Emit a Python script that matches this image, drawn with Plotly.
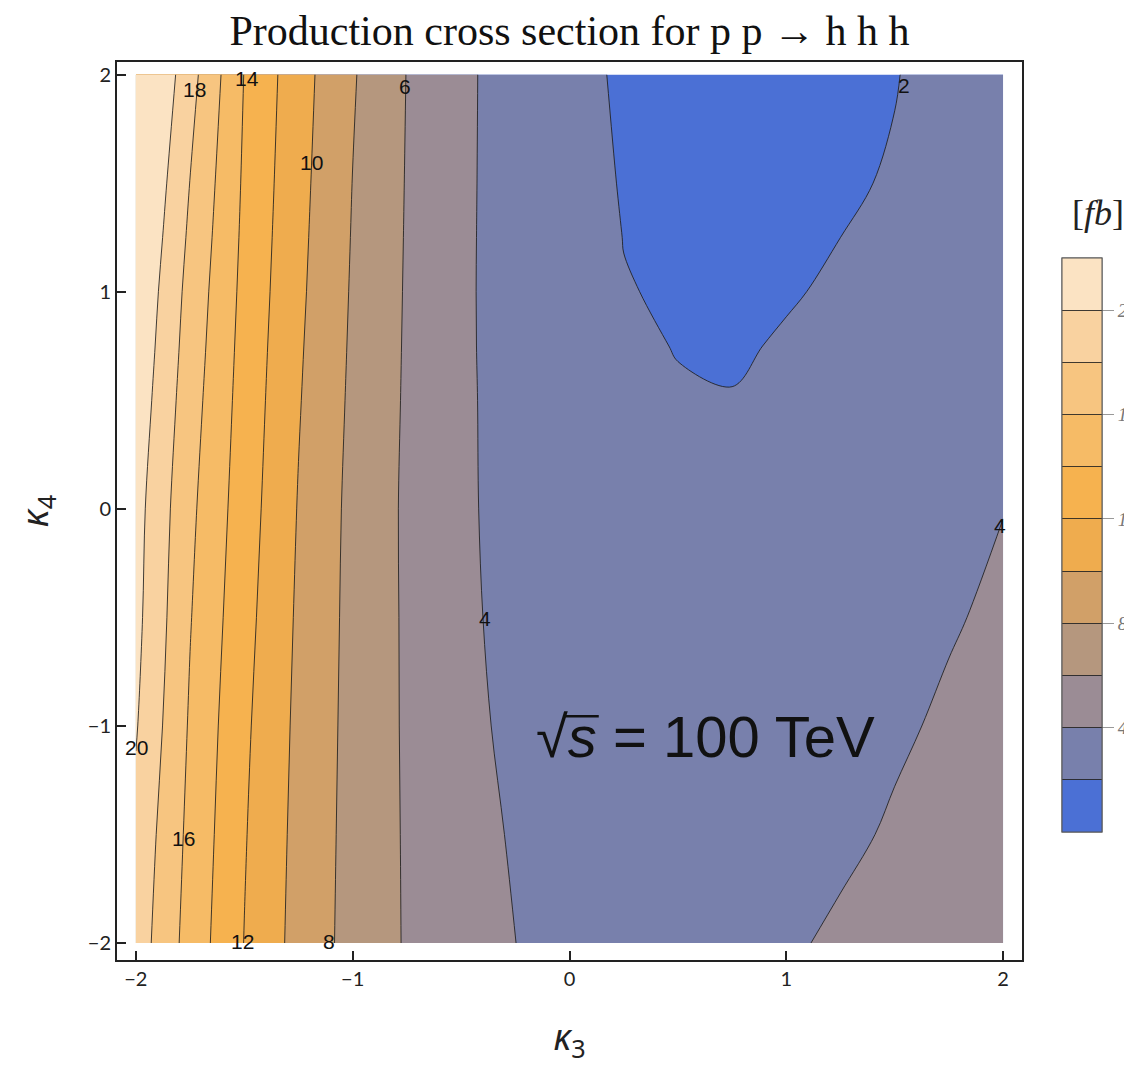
import plotly.graph_objects as go

# kappa_3 grid (x) and kappa_4 grid (y)
kappa3 = [-2.0, -1.75, -1.5, -1.25, -1.0, -0.75, -0.5, -0.25, 0.0,
          0.25, 0.5, 0.75, 1.0, 1.25, 1.5, 1.75, 2.0]
kappa4 = [-2.0, -1.5, -1.0, -0.5, 0.0, 0.5, 0.75, 1.0, 1.25, 1.5, 2.0]

# cross section [fb], one row per kappa_4 value
sigma_fb = [
    [19.10, 15.22, 11.96, 9.33, 7.33, 5.84, 4.75, 4.01, 3.30, 2.95, 2.80, 3.15, 3.75, 4.30, 4.65, 4.95, 5.20],
    [19.50, 15.50, 12.14, 9.44, 7.37, 5.81, 4.60, 3.85, 3.20, 2.80, 2.62, 2.75, 3.15, 3.65, 4.20, 4.60, 4.95],
    [20.15, 15.78, 12.36, 9.57, 7.41, 5.77, 4.375, 3.70, 3.10, 2.70, 2.50, 2.55, 2.85, 3.25, 3.75, 4.25, 4.65],
    [20.55, 16.10, 12.66, 9.72, 7.45, 5.75, 4.27, 3.60, 3.00, 2.55, 2.35, 2.35, 2.60, 2.95, 3.40, 3.85, 4.30],
    [20.75, 16.43, 12.95, 9.90, 7.50, 5.72, 4.24, 3.50, 2.90, 2.45, 2.20, 2.15, 2.35, 2.70, 3.10, 3.55, 3.97],
    [21.30, 16.86, 13.20, 10.13, 7.65, 5.78, 4.24, 3.45, 2.80, 2.35, 2.10, 2.06, 2.25, 2.55, 2.95, 3.35, 3.75],
    [21.60, 17.10, 13.33, 10.25, 7.73, 5.81, 4.23, 3.42, 2.77, 2.20, 1.96, 1.82, 2.14, 2.40, 2.82, 3.22, 3.62],
    [21.90, 17.33, 13.47, 10.38, 7.81, 5.84, 4.23, 3.40, 2.75, 2.05, 1.88, 1.78, 1.88, 2.20, 2.70, 3.10, 3.50],
    [22.30, 17.64, 13.60, 10.49, 7.89, 5.87, 4.25, 3.37, 2.70, 1.98, 1.79, 1.73, 1.80, 2.00, 2.40, 2.85, 3.27],
    [22.70, 17.96, 13.72, 10.60, 7.97, 5.90, 4.27, 3.35, 2.65, 1.90, 1.70, 1.65, 1.72, 1.85, 2.10, 2.60, 3.05],
    [23.50, 18.73, 13.95, 10.80, 8.17, 5.96, 4.31, 3.30, 2.55, 1.75, 1.55, 1.45, 1.50, 1.70, 1.95, 2.45, 2.90],
]

# contour labels (text, kappa3, kappa4)
label_text = ["20", "18", "16", "14", "12", "10", "8", "6", "4", "2", "4"]
label_k3 = [-1.998, -1.73, -1.78, -1.486, -1.509, -1.19, -1.107, -0.757, -0.392, 1.541, 1.984]
label_k4 = [-1.10, 1.93, -1.52, 1.98, -1.995, 1.595, -1.995, 1.945, -0.504, 1.95, -0.076]

levels = [2, 4, 6, 8, 10, 12, 14, 16, 18, 20]
colbar_ticks = [4, 8, 12, 16, 20]

band_colors = ["#4b70d5", "#7880ac", "#9b8c95", "#b5977e", "#d1a068",
               "#efac4e", "#f6b24f", "#f6bb66", "#f7c580", "#f9d2a0", "#fbe3c3"]
fill_scale = [[i / 10, c] for i, c in enumerate(band_colors)]
step_scale = []
for i, c in enumerate(band_colors):
    step_scale.append([i / 11, c])
    step_scale.append([(i + 1) / 11, c])

BODY = 8  # page body margin offset
L, T = 117 - BODY, 62 - BODY
R = 1132 - (1022 - BODY)
B = 1072 - (960 - BODY)
PW, PH = 1132 - L - R, 1072 - T - B


def px(xpix):
    return (xpix - BODY - L) / PW


def py(ypix):
    return 1 - (ypix - BODY - T) / PH


fig = go.Figure()
fig.add_trace(go.Contour(
    x=kappa3, y=kappa4, z=sigma_fb,
    autocontour=False,
    contours=dict(start=levels[0], end=levels[-1], size=2, coloring="fill", showlines=True),
    colorscale=fill_scale,
    line=dict(color="rgba(30,30,30,0.85)", width=1, smoothing=1.0),
    hoverinfo="skip", showscale=False,
))

cb_common = dict(
    x=px(1062), xanchor="left", xpad=0,
    y=py(545), yanchor="middle", ypad=0,
    thickness=40, thicknessmode="pixels",
    len=574, lenmode="pixels",
    outlinewidth=1, outlinecolor="#555",
)
# colour key with labels
fig.add_trace(go.Scatter(
    x=[None], y=[None], mode="markers", hoverinfo="skip", showlegend=False,
    marker=dict(color=[0], cmin=0, cmax=22, colorscale=step_scale, showscale=True,
                colorbar=dict(**cb_common,
                              tickvals=colbar_ticks, ticktext=[str(t) for t in colbar_ticks],
                              ticks="outside", ticklen=12, tickcolor="#999", tickwidth=1,
                              tickfont=dict(family="Liberation Serif", size=19, color="#777",
                                            style="italic"))),
))
# level lines across the key
fig.add_trace(go.Scatter(
    x=[None], y=[None], mode="markers", hoverinfo="skip", showlegend=False,
    marker=dict(color=[0], cmin=0, cmax=22, colorscale=step_scale, showscale=True,
                colorbar=dict(**cb_common, tickvals=levels, ticks="inside", ticklen=40,
                              tickcolor="rgba(30,30,30,0.85)", tickwidth=1,
                              showticklabels=False)),
))

for t, a, b in zip(label_text, label_k3, label_k4):
    fig.add_annotation(x=a, y=b, text=t, showarrow=False,
                       font=dict(family="Liberation Sans", size=21, color="#111"))

fig.add_annotation(x=0.627, y=-1.05, text="√<i>s</i> = 100 TeV", showarrow=False,
                   font=dict(family="Liberation Sans", size=58, color="#111"))
# vinculum of the square root
fig.add_shape(type="line", xref="x", yref="y",
              x0=-0.023, x1=0.135, y0=-0.955, y1=-0.955,
              line=dict(color="#111", width=2.5))

fig.add_annotation(xref="paper", yref="paper", x=px(1098), y=py(213),
                   xanchor="center", yanchor="middle",
                   text="[<i>fb</i>]", showarrow=False,
                   font=dict(family="Liberation Serif", size=36, color="#222"))

axis_common = dict(
    showline=True, linecolor="#222", linewidth=2, mirror=True,
    ticks="inside", ticklen=9, tickcolor="#222", tickwidth=1.5,
    showgrid=False, zeroline=False,
    tickfont=dict(family="Lato", size=20, color="#222"),
    tickvals=[-2, -1, 0, 1, 2], ticktext=["−2", "−1", "0", "1", "2"],
)

fig.update_layout(
    width=1132, height=1072,
    margin=dict(l=L, r=R, t=T, b=B, autoexpand=False),
    paper_bgcolor="white", plot_bgcolor="white",
    title=dict(text="Production cross section for p p → h h h",
               x=0.5, xref="paper", xanchor="center",
               y=1 - (30 - BODY) / 1072, yanchor="middle",
               font=dict(family="Liberation Serif", size=42, color="#111")),
    xaxis=dict(range=[-2.087, 2.087],
               title=dict(text="<i>κ</i><sub>3</sub>", standoff=36,
                          font=dict(family="Noto Sans", size=36, color="#222")),
               **axis_common),
    yaxis=dict(range=[-2.078, 2.058],
               title=dict(text="<i>κ</i><sub>4</sub>", standoff=28,
                          font=dict(family="Noto Sans", size=36, color="#222")),
               **axis_common),
    showlegend=False,
)

fig.write_html("out.html")
